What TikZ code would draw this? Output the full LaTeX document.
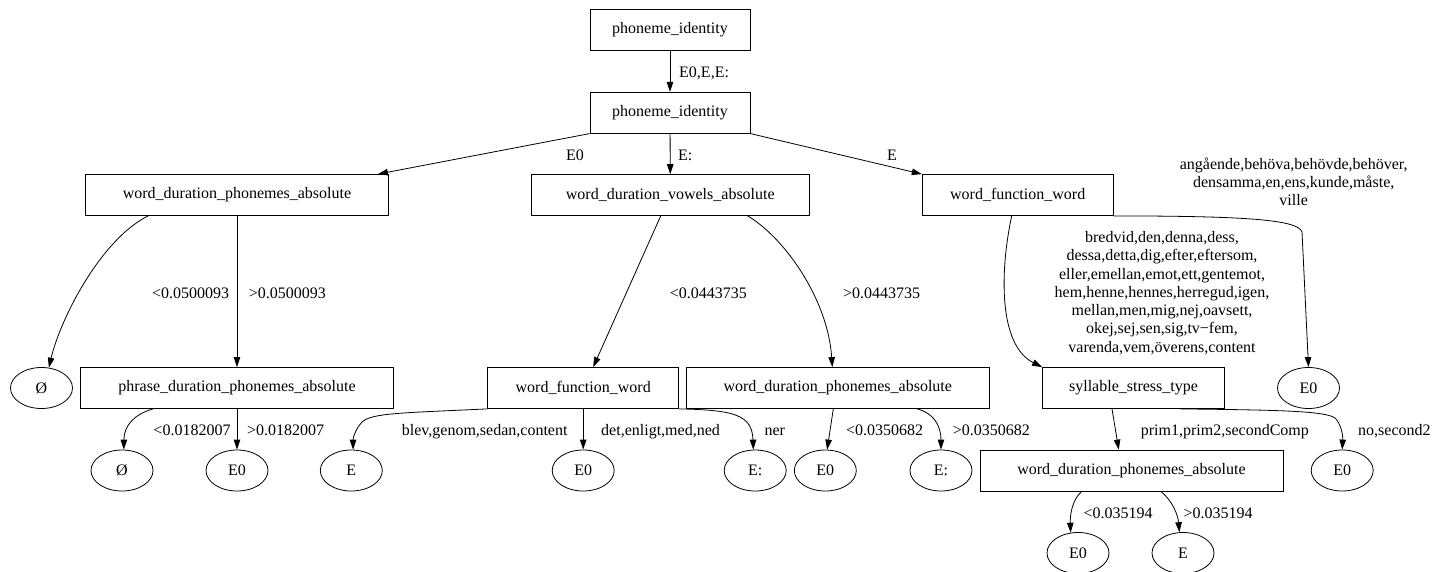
\documentclass[tikz,border=0pt]{standalone}
\usepackage{fontspec}
\setmainfont{Liberation Serif}
\usetikzlibrary{arrows.meta,shapes.geometric,calc}
\begin{document}
\begin{tikzpicture}[x=1pt,y=-1pt,
  every node/.style={font=\fontsize{16}{18.3}\selectfont},
  box/.style={draw, line width=0.8pt, rectangle, minimum height=41pt, inner sep=0pt},
  leaf/.style={draw, line width=0.8pt, ellipse, minimum width=62pt, minimum height=41pt, inner sep=0pt},
  lbl/.style={inner sep=0pt, text height=10.6pt, text depth=0pt, anchor=west},
  lblr/.style={lbl, anchor=east},
  conn/.style={draw, line width=0.8pt, -{Triangle[length=10pt,width=6.5pt]}},
]
\useasboundingbox (0,0) rectangle (1434,572);

% decision nodes
\node[box, minimum width=160pt] (root) at (670,30) {phoneme\_identity};
\node[box, minimum width=160pt] (pid) at (670,112.7) {phoneme\_identity};
\node[box, minimum width=303pt] (wdpaL) at (237,195) {word\_duration\_phonemes\_absolute};
\node[box, minimum width=278pt] (wdva) at (670.3,195) {word\_duration\_vowels\_absolute};
\node[box, minimum width=191pt] (wfwR) at (1017.7,195) {word\_function\_word};
\node[box, minimum width=313pt] (pdpa) at (237,388) {phrase\_duration\_phonemes\_absolute};
\node[box, minimum width=191pt] (wfwM) at (583.2,388) {word\_function\_word};
\node[box, minimum width=303pt] (wdpaM) at (837.8,388) {word\_duration\_phonemes\_absolute};
\node[box, minimum width=182pt] (sst) at (1133.5,388) {syllable\_stress\_type};
\node[box, minimum width=303pt] (wdpaR) at (1131.5,470.5) {word\_duration\_phonemes\_absolute};

% leaves
\node[leaf] (oL) at (41.5,388) {Ø};
\node[leaf] (e0R) at (1308.5,388) {E0};
\node[leaf] (oLL) at (122,470.5) {Ø};
\node[leaf] (e0a) at (237,470.5) {E0};
\node[leaf] (eA) at (351.3,470.5) {E};
\node[leaf] (e0b) at (583.2,470.5) {E0};
\node[leaf] (ecA) at (755.2,470.5) {E:};
\node[leaf] (e0c) at (825.3,470.5) {E0};
\node[leaf] (ecB) at (941,470.5) {E:};
\node[leaf] (e0d) at (1342.2,470.5) {E0};
\node[leaf] (e0e) at (1078,553) {E0};
\node[leaf] (eB) at (1183,553) {E};

% connectors
\draw[conn] (root) -- (pid);
\draw[conn] (pid.south west) -- ($(wdpaL.north east)+(-11,0)$);
\draw[conn] (pid) -- (wdva);
\draw[conn] (pid.south east) -- (wfwR.north west);

\draw[conn] ($(wdpaL.south west)+(63,0)$) .. controls (100,240) and (60,320) .. (oL.70);
\draw[conn] (wdpaL) -- (pdpa);
\draw[conn] ($(pdpa.south west)+(73,0)$) .. controls (135,414) and (124,425) .. (oLL.85);
\draw[conn] (pdpa) -- (e0a);

\draw[conn] ($(wdva.south)+(-9.6,0)$) -- ($(wfwM.north)+(10,0)$);
\draw[conn] ($(wdva.south)+(77.4,0)$) .. controls (785,238) and (828,300) .. ($(wdpaM.north)+(-5.5,0)$);

\draw[conn] (wfwM.south west) .. controls (400,413) and (372,413) .. (362,422)
  .. controls (355,430) and (353,438) .. (eA.85);
\draw[conn] (wfwM) -- (e0b);
\draw[conn] (wfwM.south east) .. controls (735,410) and (752,415) .. (ecA.95);
\draw[conn] ($(wdpaM.south)+(-4.5,0)$) -- (e0c.85);
\draw[conn] ($(wdpaM.south)+(79.5,0)$) .. controls (933,413) and (941,425) .. (ecB.north);

\draw[conn] (wfwR.south east) .. controls (1250,216) and (1298,220) .. (1302,232) -- (e0R.north);
\draw[conn] ($(wfwR.south)+(-6,0)$) .. controls (1000,270) and (998,345) .. (sst.north west);

\draw[conn] ($(sst.south)+(-21.5,0)$) -- ($(wdpaR.north)+(-12.8,0)$);
\draw[conn] ($(sst.south)+(47,0)$) .. controls (1280,410) and (1325,411) .. (1335,418)
  .. controls (1341,424) and (1343,435) .. (e0d.north);

\draw[conn] ($(wdpaR.south)+(-49.8,0)$) .. controls (1072,500) and (1070,515) .. (e0e.110);
\draw[conn] ($(wdpaR.south)+(29.2,0)$) .. controls (1172,500) and (1178,515) .. (eB.100);

% connector labels
\node[lbl] (l1) at (679,72) {E0,E,E:};
\node[lbl] (l2) at (566,155) {E0};
\node[lbl] (l3) at (678,155) {E:};
\node[lbl] (l4) at (887,155) {E};
\node[align=center, inner sep=0pt] (l5) at (1293.7,181.7)
  {angående,behöva,behövde,behöver,\\densamma,en,ens,kunde,måste,\\ville};
\node[align=center, inner sep=0pt] (l6) at (1162,293)
  {bredvid,den,denna,dess,\\dessa,detta,dig,efter,eftersom,\\eller,emellan,emot,ett,gentemot,\\hem,henne,hennes,herregud,igen,\\mellan,men,mig,nej,oavsett,\\okej,sej,sen,sig,tv−fem,\\varenda,vem,överens,content};
\node[lblr] (l7) at (229.3,293) {<0.0500093};
\node[lbl] (l8) at (248.7,293) {>0.0500093};
\node[lbl] (l9) at (669.7,293) {<0.0443735};
\node[lbl] (l10) at (843,293) {>0.0443735};
\node[lblr] (l11) at (230.7,430) {<0.0182007};
\node[lbl] (l12) at (247,430) {>0.0182007};
\node[lbl] (l13) at (401.7,430) {blev,genom,sedan,content};
\node[lbl] (l14) at (601,430) {det,enligt,med,ned};
\node[lbl] (l15) at (764.3,430) {ner};
\node[lbl] (l16) at (846,430) {<0.0350682};
\node[lbl] (l17) at (952.7,430) {>0.0350682};
\node[lbl] (l18) at (1140.7,430) {prim1,prim2,secondComp};
\node[lbl] (l19) at (1358,430) {no,second2};
\node[lbl] (l20) at (1083.3,512.7) {<0.035194};
\node[lbl] (l21) at (1183.3,512.7) {>0.035194};
\end{tikzpicture}
\end{document}
